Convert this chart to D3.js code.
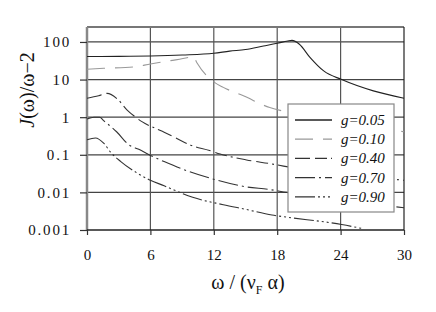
<!DOCTYPE html>
<html>
<head>
<meta charset="utf-8">
<script src="https://cdn.jsdelivr.net/npm/d3@7"></script>
<style>
  body { margin: 0; background: #fff; }
  svg text { font-family: "Liberation Serif", "Times New Roman", Tinos, "DejaVu Serif"; fill: #111; }
</style>
</head>
<body>
<div id="chart"></div>
<script>
// Chart data
var gLabels = ["g=0.05", "g=0.10", "g=0.40", "g=0.70", "g=0.90"];

var w05 = [0, 3, 6, 9, 12, 13.5, 15, 16.7, 18, 19, 19.4, 20.1, 21.1, 22.4, 24.1, 27.1, 30];
var v05 = [41, 41.5, 42.5, 45, 50, 57, 63, 78, 92, 106, 110, 87, 39, 17, 10, 5, 3.2];

var w10 = [0, 1.6, 4.4, 6, 7.8, 9.8, 10.05, 10.4, 12.1, 12.9, 14.8, 17.3, 19.05, 22, 26, 30];
var v10 = [18.9, 20, 21.7, 26, 31.5, 40, 42, 28, 8.3, 6.2, 3.7, 1.8, 1.35, 0.9, 0.6, 0.41];

var w40 = [0, 1.1, 1.9, 2.9, 3.8, 4.5, 5.2, 6.5, 7.3, 8.2, 9.8, 11.6, 12.6, 15.1, 17.5, 18.6, 24, 30];
var v40 = [3.2, 3.7, 4.3, 3.0, 1.55, 1.05, 0.76, 0.50, 0.40, 0.30, 0.18, 0.13, 0.105, 0.073, 0.057, 0.050, 0.031, 0.021];

var w70 = [0, 0.66, 1.2, 1.6, 2.2, 2.8, 4.0, 4.9, 6, 7.3, 9, 12.1, 15.1, 17.2, 18.9, 24, 30];
var v70 = [0.89, 1.0, 1.0, 0.8, 0.58, 0.41, 0.18, 0.14, 0.096, 0.066, 0.042, 0.022, 0.014, 0.012, 0.010, 0.0062, 0.0039];

var w90 = [0, 0.8, 1.6, 2.2, 3.2, 4.8, 6, 7.3, 8.1, 10, 12.9, 15.1, 17.5, 18.9, 24.1, 26];
var v90 = [0.25, 0.28, 0.20, 0.12, 0.066, 0.032, 0.021, 0.015, 0.012, 0.0074, 0.0047, 0.0035, 0.0025, 0.0022, 0.0014, 0.0011];

var xTicks = [0, 6, 12, 18, 24, 30];
var yTicks = [0.001, 0.01, 0.1, 1, 10, 100];
var yTickLbls = ["0.001", "0.01", "0.1", "1", "10", "100"];

// SVG params
var svgWdt = 436;
var svgHgt = 312;
var margins = { top: 27, right: 32, bottom: 82, left: 87 };
var chtWdt = svgWdt - margins.left - margins.right;
var chtHgt = svgHgt - margins.top - margins.bottom;

var svg = d3.select("#chart").append("svg")
    .attr("width", svgWdt)
    .attr("height", svgHgt);

var chtGrp = svg.append("g")
    .attr("transform", `translate(${margins.left}, ${margins.top})`);

var xScale = d3.scaleLinear().domain([0, 30]).range([0, chtWdt]);
var yScale = d3.scaleLog().domain([0.001, 250]).range([chtHgt, 0]);

// grid lines
chtGrp.selectAll(".hgrid").data(yTicks.slice(1))
    .enter().append("line")
        .attr("x1", 0).attr("x2", chtWdt)
        .attr("y1", d => yScale(d)).attr("y2", d => yScale(d))
        .attr("stroke", "#444").attr("stroke-width", 1.2);
chtGrp.selectAll(".vgrid").data(xTicks.slice(1, -1))
    .enter().append("line")
        .attr("x1", d => xScale(d)).attr("x2", d => xScale(d))
        .attr("y1", 0).attr("y2", chtHgt)
        .attr("stroke", "#555").attr("stroke-width", 1.2);

// frame: top and right
chtGrp.append("line").attr("x1", 0).attr("x2", chtWdt).attr("y1", 0).attr("y2", 0)
    .attr("stroke", "#777").attr("stroke-width", 2);
chtGrp.append("line").attr("x1", chtWdt).attr("x2", chtWdt).attr("y1", 0).attr("y2", chtHgt)
    .attr("stroke", "#222").attr("stroke-width", 1.2);

// axes
var leftAx = d3.axisLeft(yScale).tickValues(yTicks).tickSize(7).tickPadding(9)
    .tickFormat((d, i) => yTickLbls[i]);
var yAxis = chtGrp.append("g").call(leftAx).attr("font-family", null);
yAxis.select(".domain").attr("stroke", "#888").attr("stroke-width", 2.5).attr("d", `M0,0V${chtHgt}`);
yAxis.selectAll(".tick line").attr("stroke", "#333").attr("stroke-width", 1.2);
yAxis.selectAll(".tick text")
    .attr("font-size", 15).attr("letter-spacing", "1.8px").attr("fill", "#111")
    .attr("dy", "0.33em");

var botAx = d3.axisBottom(xScale).tickValues(xTicks).tickSize(5).tickPadding(14);
var xAxis = chtGrp.append("g")
    .attr("transform", `translate(0, ${chtHgt})`)
    .call(botAx).attr("font-family", null);
xAxis.select(".domain").attr("stroke", "#222").attr("stroke-width", 1.5).attr("d", `M0,0H${chtWdt}`);
xAxis.selectAll(".tick line").attr("stroke", "#333").attr("stroke-width", 1.2);
xAxis.selectAll(".tick text")
    .attr("font-size", 15).attr("fill", "#111");

// curves
var series = [
    { w: w05, v: v05, color: "#222", dash: null },
    { w: w10, v: v10, color: "#999", dash: "18,10" },
    { w: w40, v: v40, color: "#333", dash: "15,5,12,4,2,4" },
    { w: w70, v: v70, color: "#333", dash: "20,4,2,4" },
    { w: w90, v: v90, color: "#333", dash: "20,3,2,3,2,3,2,3" }
];

var lineGen = d3.line()
    .x(d => xScale(d[0]))
    .y(d => yScale(d[1]))
    .curve(d3.curveMonotoneX);

series.forEach(s => {
    var pts = s.w.map((w, i) => [w, s.v[i]]);
    chtGrp.append("path")
        .attr("d", lineGen(pts))
        .attr("fill", "none")
        .attr("stroke", s.color)
        .attr("stroke-width", 1.1)
        .attr("stroke-dasharray", s.dash);
});

// legend
var lgX = 288, lgY = 104, lgW = 106, lgH = 108;
var lgGrp = svg.append("g");
lgGrp.append("rect")
    .attr("x", lgX).attr("y", lgY).attr("width", lgW).attr("height", lgH)
    .attr("fill", "#fff").attr("stroke", "#888").attr("stroke-width", 1.2);
series.forEach((s, i) => {
    var ly = 120 + i * 19.2;
    lgGrp.append("line")
        .attr("x1", 295).attr("x2", 332).attr("y1", ly).attr("y2", ly)
        .attr("stroke", s.color).attr("stroke-width", 1.3)
        .attr("stroke-dasharray", s.dash);
    lgGrp.append("text")
        .attr("x", 341).attr("y", ly + 5)
        .attr("font-size", 15).attr("font-style", "italic")
        .text(gLabels[i]);
});

// axis titles
var yTitle = svg.append("text")
    .attr("transform", "translate(34, 90) rotate(-90)")
    .attr("text-anchor", "middle")
    .attr("font-size", 20);
yTitle.append("tspan").attr("font-style", "italic").text("J");
yTitle.append("tspan").text("(ω)/ω−2");

var xTitle = svg.append("text")
    .attr("x", 248).attr("y", 289)
    .attr("text-anchor", "middle")
    .attr("font-size", 20);
xTitle.append("tspan").text("ω / (ν");
xTitle.append("tspan").attr("font-size", 12).attr("dy", 5).text("F");
xTitle.append("tspan").attr("dy", -5).text(" α)");
</script>
</body>
</html>
